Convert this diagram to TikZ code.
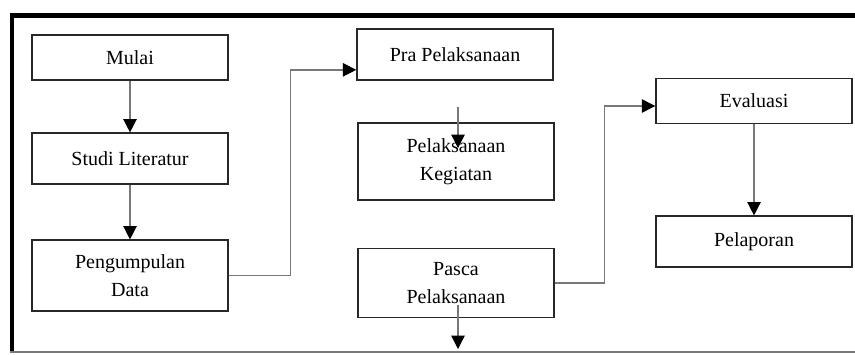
\documentclass[tikz,border=0pt]{standalone}
\usepackage{fontspec}
\setmainfont{Liberation Serif}
\usepackage{tikz}
\usetikzlibrary{arrows.meta,positioning,calc}
\definecolor{boxline}{RGB}{40,40,40}
\definecolor{flowgray}{RGB}{120,120,120}

\begin{document}
\begin{tikzpicture}[
    x=0.75pt, y=-0.75pt,
    box/.style={rectangle, draw=boxline, line width=1.1pt, minimum width=147pt, align=center, inner sep=2pt, font=\fontsize{15}{21}\selectfont},
    arrow/.style={-{Triangle[length=10pt, width=10pt, black]}, draw=flowgray, line width=1pt}
]
    \useasboundingbox (0,0) rectangle (855,354);

    \draw[line width=3.75pt] (10,15.7) -- (855,15.7);
    \draw[line width=3pt] (11.7,13) -- (11.7,352);
    \draw[flowgray, line width=1.5pt] (10,352) -- (855,352);

    \node[box, minimum height=34pt] (mulai) at (130,57.5) {Mulai};
    \node[box, minimum height=38pt] (studi) at (130,158.5) {Studi Literatur};
    \node[box, minimum height=53pt] (kumpul) at (130,275.5) {Pengumpulan\\Data};
    \node[box, minimum height=38pt] (pra) at (455,54.5) {Pra Pelaksanaan};
    \node[box, minimum height=58pt] (kegiatan) at (456,161.5) {Pelaksanaan\\Kegiatan};
    \node[box, minimum height=52pt] (pasca) at (456,283) {Pasca\\Pelaksanaan};
    \node[box, minimum height=34pt] (evaluasi) at (754,101) {Evaluasi};
    \node[box, minimum height=38pt] (lapor) at (754,241.5) {Pelaporan};

    \coordinate (keg1) at (458,107);
    \coordinate (keg2) at (458,148);
    \coordinate (pas1) at (458,305);
    \coordinate (pas2) at (458,349);

    \draw[arrow] (mulai) -- (studi);
    \draw[arrow] (studi) -- (kumpul);
    \draw[arrow] (kumpul.east) -- ++(62,0) |- ([yshift=-11.5pt]pra.west);
    \draw[arrow] (keg1) -- (keg2);
    \draw[arrow] (pas1) -- (pas2);
    \draw[arrow] (pasca.east) -- ++(50,0) |- ([yshift=-3.75pt]evaluasi.west);
    \draw[arrow] (evaluasi) -- (lapor);
\end{tikzpicture}
\end{document}
